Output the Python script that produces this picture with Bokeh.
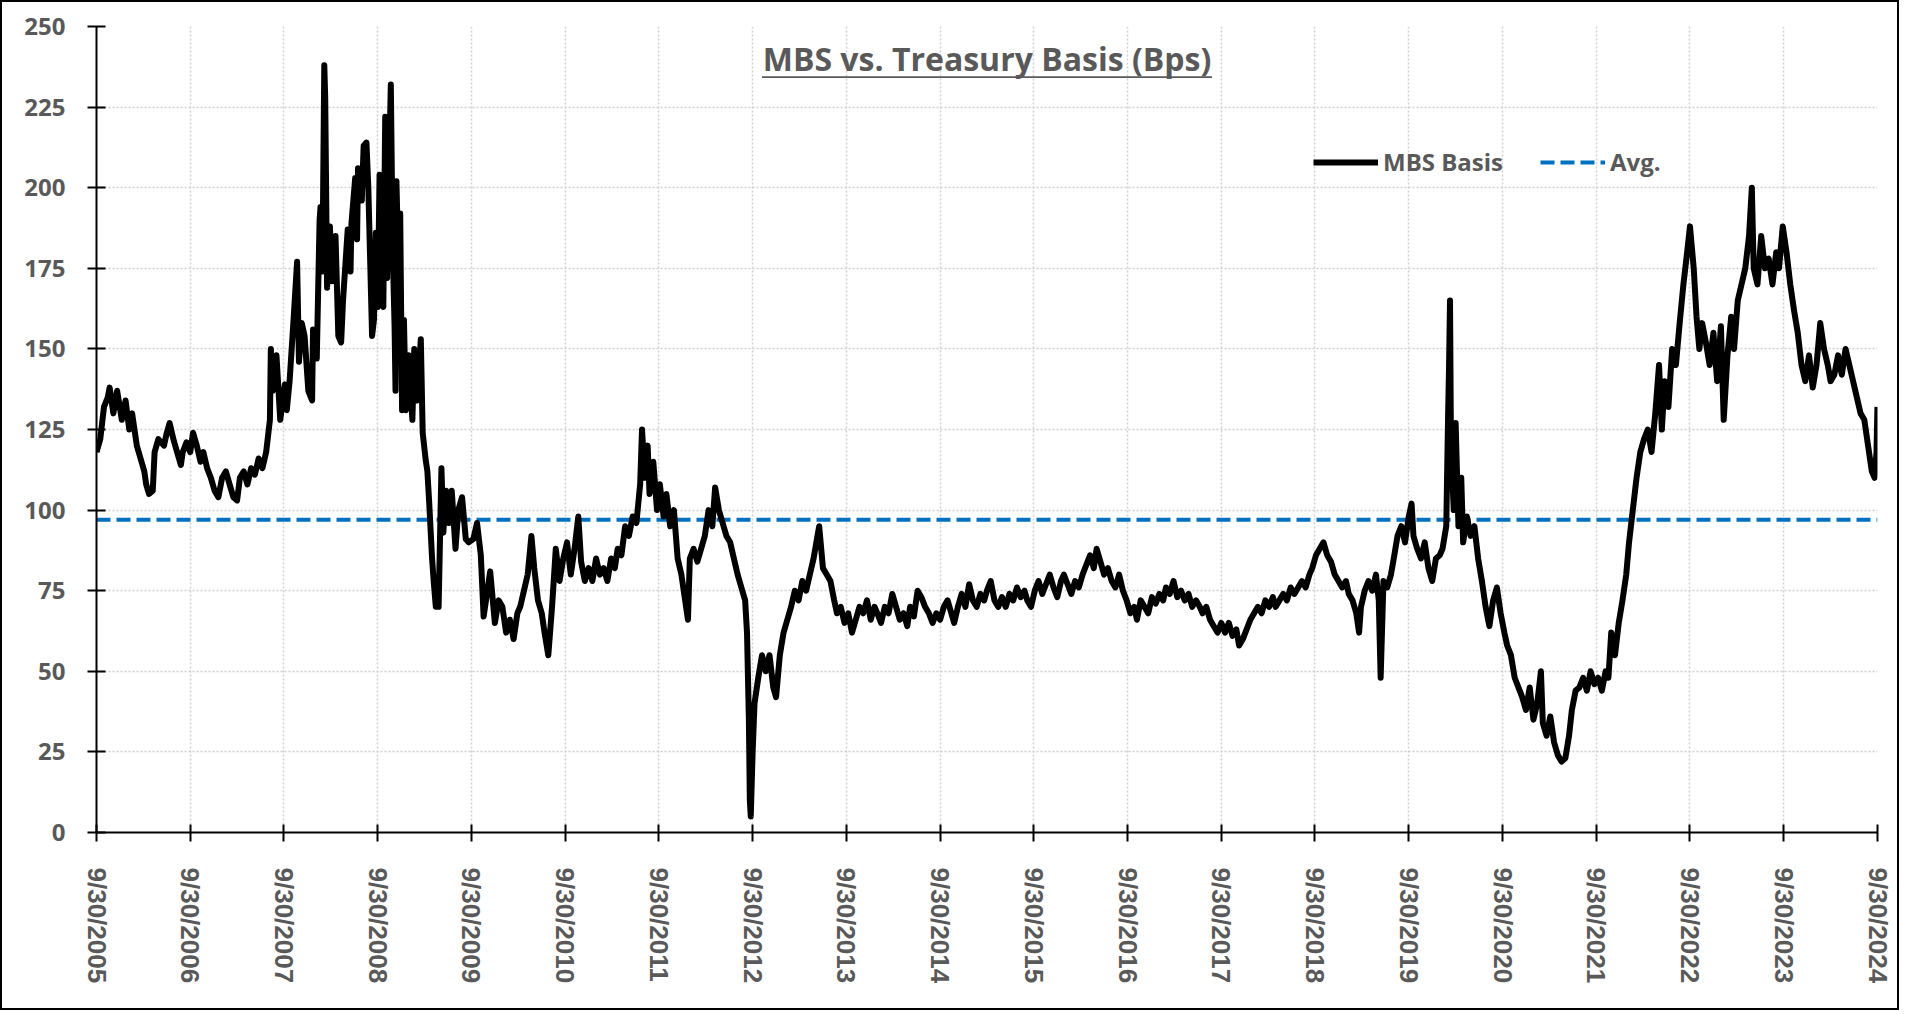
import math
import pandas as pd
from bokeh.plotting import figure
from bokeh.models import (ColumnDataSource, FixedTicker, Legend, LegendItem, Label,
                          BoxAnnotation, Range1d)
from bokeh.embed import file_html
from bokeh.resources import INLINE

# ---- data (decimal year, basis in bps), by period ----
t_2005_07 = [
    2005.75, 2005.79, 2005.83, 2005.87, 2005.89, 2005.93, 2005.97, 2006.02, 2006.06, 2006.10,
    2006.13, 2006.18, 2006.22, 2006.26, 2006.28, 2006.31, 2006.35, 2006.37, 2006.41, 2006.47,
    2006.50, 2006.53, 2006.57, 2006.61, 2006.65, 2006.67, 2006.71, 2006.75, 2006.78, 2006.82,
    2006.86, 2006.89, 2006.93, 2006.97, 2007.01, 2007.05, 2007.09, 2007.13, 2007.17, 2007.21,
    2007.25, 2007.28, 2007.32, 2007.36, 2007.40, 2007.44, 2007.48, 2007.52, 2007.56,
]
v_2005_07 = [
    118, 122, 132, 135, 138, 130, 137, 128, 134, 125,
    130, 120, 116, 112, 108, 105, 106, 118, 122, 120,
    124, 127, 122, 118, 114, 118, 121, 118, 124, 120,
    115, 118, 113, 110, 106, 104, 110, 112, 108, 104,
    103, 110, 112, 108, 113, 111, 116, 113, 118,
]
t_2007_09 = [
    2007.60, 2007.61, 2007.63, 2007.67, 2007.71, 2007.76, 2007.78, 2007.81, 2007.85, 2007.89,
    2007.91, 2007.94, 2007.97, 2008.01, 2008.05, 2008.06, 2008.10, 2008.13, 2008.14, 2008.16,
    2008.18, 2008.19, 2008.21, 2008.24, 2008.26, 2008.30, 2008.33, 2008.36, 2008.38, 2008.43,
    2008.46, 2008.47, 2008.51, 2008.53, 2008.54, 2008.58, 2008.60, 2008.63, 2008.65, 2008.69,
    2008.71, 2008.73, 2008.75, 2008.77, 2008.79, 2008.81, 2008.83, 2008.85, 2008.87, 2008.89,
    2008.91, 2008.93, 2008.94, 2008.95, 2008.97, 2008.99, 2009.01, 2009.03, 2009.05, 2009.08,
    2009.12, 2009.14, 2009.17, 2009.21, 2009.23, 2009.26, 2009.28, 2009.30, 2009.33, 2009.35,
    2009.37, 2009.40, 2009.43, 2009.45, 2009.48, 2009.51, 2009.54, 2009.58, 2009.61, 2009.65,
    2009.69, 2009.72, 2009.77, 2009.81, 2009.85, 2009.88, 2009.92, 2009.95,
]
v_2007_09 = [
    128, 150, 137, 148, 128, 139, 131, 140, 158, 177,
    146, 158, 154, 137, 134, 156, 147, 190, 194, 174,
    238, 228, 169, 188, 171, 185, 154, 152, 165, 187,
    174, 189, 203, 184, 206, 196, 213, 214, 200, 154,
    159, 186, 163, 204, 165, 163, 222, 172, 205, 232,
    181, 157, 137, 202, 177, 192, 131, 159, 131, 148,
    128, 150, 134, 153, 124, 116, 112, 102, 85, 77,
    70, 70, 113, 93, 106, 96, 106, 88, 100, 104,
    91, 90, 91, 96, 86, 67, 75, 81,
]
t_2010_24 = [
    2010.00, 2010.04, 2010.08,
    2010.12, 2010.16, 2010.20, 2010.24, 2010.27, 2010.31, 2010.35, 2010.39, 2010.42, 2010.46,
    2010.50, 2010.53, 2010.57, 2010.61, 2010.65, 2010.69, 2010.73, 2010.77, 2010.81, 2010.85,
    2010.89, 2010.92, 2010.96, 2011.00, 2011.04, 2011.08, 2011.12, 2011.16, 2011.20, 2011.24,
    2011.28, 2011.31, 2011.35, 2011.39, 2011.43, 2011.47, 2011.51, 2011.55, 2011.57, 2011.60,
    2011.63, 2011.65, 2011.69, 2011.73, 2011.76, 2011.80, 2011.83, 2011.87, 2011.91, 2011.95,
    2011.99, 2012.03, 2012.06, 2012.08, 2012.12, 2012.16, 2012.20, 2012.24, 2012.28, 2012.32,
    2012.35, 2012.39, 2012.43, 2012.47, 2012.51, 2012.55, 2012.59, 2012.63, 2012.67, 2012.69,
    2012.71, 2012.72, 2012.73, 2012.75, 2012.77, 2012.81, 2012.85, 2012.89, 2012.93, 2012.97,
    2013.00, 2013.04, 2013.08, 2013.12, 2013.16, 2013.20, 2013.24, 2013.28, 2013.32, 2013.36,
    2013.40, 2013.43, 2013.46, 2013.50, 2013.54, 2013.58, 2013.62, 2013.65, 2013.69, 2013.73,
    2013.77, 2013.81, 2013.85, 2013.89, 2013.93, 2013.97, 2014.01, 2014.05, 2014.08, 2014.12,
    2014.16, 2014.20, 2014.24, 2014.28, 2014.32, 2014.36, 2014.40, 2014.43, 2014.47, 2014.51,
    2014.55, 2014.59, 2014.63, 2014.67, 2014.71, 2014.75, 2014.79, 2014.83, 2014.87, 2014.90,
    2014.94, 2014.98, 2015.02, 2015.06, 2015.10, 2015.14, 2015.18, 2015.22, 2015.25, 2015.29,
    2015.33, 2015.37, 2015.41, 2015.45, 2015.49, 2015.53, 2015.57, 2015.61, 2015.65, 2015.68,
    2015.72, 2015.76, 2015.80, 2015.84, 2015.88, 2015.92, 2015.96, 2016.00, 2016.04, 2016.07,
    2016.11, 2016.15, 2016.19, 2016.23, 2016.27, 2016.31, 2016.35, 2016.39, 2016.42, 2016.46,
    2016.50, 2016.54, 2016.58, 2016.62, 2016.66, 2016.70, 2016.74, 2016.78, 2016.82, 2016.85,
    2016.89, 2016.93, 2016.97, 2017.01, 2017.05, 2017.09, 2017.13, 2017.16, 2017.20, 2017.24,
    2017.28, 2017.32, 2017.36, 2017.40, 2017.44, 2017.48, 2017.52, 2017.55, 2017.59, 2017.63,
    2017.67, 2017.71, 2017.75, 2017.79, 2017.83, 2017.87, 2017.91, 2017.94, 2017.98, 2018.02,
    2018.06, 2018.10, 2018.14, 2018.18, 2018.22, 2018.26, 2018.30, 2018.33, 2018.37, 2018.41,
    2018.45, 2018.49, 2018.53, 2018.57, 2018.61, 2018.65, 2018.69, 2018.72, 2018.76, 2018.80,
    2018.84, 2018.88, 2018.92, 2018.96, 2019.00, 2019.04, 2019.08, 2019.11, 2019.15, 2019.19,
    2019.22, 2019.24, 2019.28, 2019.32, 2019.36, 2019.40, 2019.43, 2019.45, 2019.48, 2019.52,
    2019.56, 2019.59, 2019.63, 2019.67, 2019.71, 2019.75, 2019.78, 2019.80, 2019.84, 2019.88,
    2019.92, 2019.96, 2020.00, 2020.04, 2020.08, 2020.11, 2020.15, 2020.17, 2020.18, 2020.19,
    2020.20, 2020.23, 2020.25, 2020.28, 2020.31, 2020.33, 2020.37, 2020.41, 2020.45, 2020.49,
    2020.53, 2020.57, 2020.61, 2020.65, 2020.69, 2020.73, 2020.77, 2020.80, 2020.84, 2020.88,
    2020.92, 2020.96, 2021.00, 2021.04, 2021.08, 2021.12, 2021.16, 2021.18, 2021.22, 2021.26,
    2021.30, 2021.34, 2021.38, 2021.42, 2021.46, 2021.49, 2021.53, 2021.57, 2021.61, 2021.65,
    2021.69, 2021.73, 2021.77, 2021.81, 2021.85, 2021.88, 2021.91, 2021.95, 2021.99, 2022.03,
    2022.07, 2022.10, 2022.14, 2022.18, 2022.22, 2022.26, 2022.30, 2022.34, 2022.38, 2022.42,
    2022.45, 2022.48, 2022.52, 2022.56, 2022.60, 2022.64, 2022.68, 2022.72, 2022.75, 2022.79,
    2022.82, 2022.85, 2022.88, 2022.92, 2022.96, 2023.00, 2023.04, 2023.08, 2023.11, 2023.15,
    2023.19, 2023.22, 2023.26, 2023.30, 2023.34, 2023.38, 2023.41, 2023.43, 2023.47, 2023.51,
    2023.55, 2023.59, 2023.63, 2023.67, 2023.70, 2023.74, 2023.78, 2023.82, 2023.86, 2023.90,
    2023.94, 2023.98, 2024.02, 2024.06, 2024.10, 2024.14, 2024.18, 2024.22, 2024.25, 2024.29,
    2024.33, 2024.37, 2024.41, 2024.45, 2024.49, 2024.53, 2024.57, 2024.61, 2024.65, 2024.69,
    2024.72, 2024.74, 2024.75,
]
v_2010_24 = [
    65, 72, 70,
    62, 66, 60, 68, 70, 75, 80, 92, 82, 72,
    68, 62, 55, 70, 88, 78, 85, 90, 80, 88,
    98, 84, 78, 82, 78, 85, 80, 82, 78, 85,
    82, 88, 86, 95, 92, 98, 96, 108, 125, 110,
    120, 105, 115, 100, 108, 98, 105, 95, 100, 85,
    80, 72, 66, 85, 88, 84, 88, 92, 100, 95,
    107, 100, 96, 92, 90, 85, 80, 76, 72, 62,
    35, 10, 5, 25, 40, 48, 55, 50, 55, 45,
    42, 55, 62, 66, 70, 75, 72, 78, 75, 80,
    85, 90, 95, 82, 80, 78, 72, 68, 70, 65,
    68, 62, 66, 70, 68, 72, 66, 70, 68, 65,
    70, 68, 74, 70, 66, 68, 64, 70, 67, 75,
    73, 70, 68, 65, 68, 66, 70, 72, 68, 65,
    70, 74, 70, 77, 72, 70, 74, 72, 75, 78,
    72, 70, 73, 70, 74, 72, 76, 73, 75, 72,
    70, 75, 78, 74, 77, 80, 76, 73, 78, 80,
    77, 74, 78, 76, 80, 83, 86, 82, 88, 84,
    80, 82, 78, 76, 80, 75, 72, 68, 70, 66,
    72, 70, 68, 73, 71, 74, 72, 76, 74, 78,
    73, 75, 72, 74, 70, 72, 70, 68, 70, 66,
    64, 62, 65, 62, 65, 61, 63, 58, 60, 63,
    66, 68, 70, 68, 72, 70, 73, 70, 72, 74,
    72, 76, 74, 76, 78, 76, 80, 82, 86, 88,
    90, 86, 84, 80, 78, 76, 78, 74, 72, 68,
    62, 70, 75, 78, 75, 80, 72, 48, 78, 76,
    80, 85, 92, 95, 90, 98, 102, 92, 88, 85,
    90, 82, 78, 85, 86, 88, 95, 130, 145, 165,
    120, 100, 127, 95, 110, 90, 98, 92, 95, 85,
    78, 70, 64, 72, 76, 68, 62, 58, 55, 48,
    45, 42, 38, 45, 35, 40, 50, 34, 30, 36,
    28, 24, 22, 23, 30, 38, 44, 45, 48, 44,
    50, 46, 48, 44, 50, 48, 62, 55, 65, 72,
    80, 90, 100, 110, 118, 122, 125, 118, 130, 145,
    125, 140, 132, 150, 145, 158, 170, 180, 188, 175,
    160, 150, 158, 152, 145, 155, 140, 157, 128, 148,
    160, 150, 165, 170, 175, 185, 200, 175, 170, 185,
    175, 178, 170, 180, 175, 188, 180, 170, 162, 155,
    145, 140, 148, 138, 145, 158, 150, 145, 140, 142,
    148, 142, 150, 145, 140, 135, 130, 128, 120, 112,
    110, 118, 132,
]
avg_basis = 97.0
y_ticks = [0, 25, 50, 75, 100, 125, 150, 175, 200, 225, 250]
tick_years = list(range(2005, 2025))
tick_labels = [f"9/30/{y}" for y in tick_years]

t_years = t_2005_07 + t_2007_09 + t_2010_24
mbs_basis = v_2005_07 + v_2007_09 + v_2010_24
assert len(t_years) == len(mbs_basis)

# ---- build ----
base = pd.Timestamp("2005-09-30")
dates = [base + pd.Timedelta(days=(t - 2005.75) * 365.25) for t in t_years]
src = ColumnDataSource(dict(date=dates, basis=mbs_basis))


def ms(ts):
    return ts.value / 1e6


tick_ms = [ms(pd.Timestamp(f"{y}-09-30")) for y in tick_years]
x0, x1 = tick_ms[0], tick_ms[-1]

FW, FH = 1781, 806
p = figure(x_axis_type="datetime", frame_width=FW, frame_height=FH,
           x_range=Range1d(x0, x1), y_range=Range1d(0, 250),
           min_border_left=94, min_border_top=24, min_border_right=20,
           min_border_bottom=176, output_backend="svg", toolbar_location=None,
           outline_line_color=None, background_fill_color="white",
           border_fill_color="white")
p.styles = {"border": "2px solid black"}

GRAY = "#595959"
FONT = "Open Sans"
for g in (p.xgrid, p.ygrid):
    g.grid_line_color = "#D0D0D0"
    g.grid_line_dash = "2 2"
    g.grid_line_width = 1.5

p.yaxis.ticker = FixedTicker(ticks=y_ticks)
p.yaxis.minor_tick_line_color = None
p.yaxis.major_tick_in = 9
p.yaxis.major_tick_out = 9
p.yaxis.major_tick_line_width = 2
p.yaxis.axis_line_width = 2
p.yaxis.axis_line_color = "black"
p.yaxis.major_tick_line_color = "black"
p.yaxis.major_label_text_font = FONT
p.yaxis.major_label_text_font_style = "bold"
p.yaxis.major_label_text_font_size = "24px"
p.yaxis.major_label_text_color = GRAY
p.yaxis.major_label_standoff = 22

p.xaxis.ticker = FixedTicker(ticks=tick_ms)
p.xaxis.major_label_overrides = {t: lab for t, lab in zip(tick_ms, tick_labels)}
p.xaxis.minor_tick_line_color = None
p.xaxis.major_tick_in = 8
p.xaxis.major_tick_out = 9
p.xaxis.major_tick_line_width = 2
p.xaxis.axis_line_width = 2
p.xaxis.axis_line_color = "black"
p.xaxis.major_tick_line_color = "black"
p.xaxis.major_label_orientation = -math.pi / 2
p.xaxis.major_label_text_font = "Liberation Sans"
p.xaxis.major_label_text_font_style = "bold"
p.xaxis.major_label_text_font_size = "26px"
p.xaxis.major_label_text_color = GRAY
p.xaxis.major_label_standoff = 26

avg_src = ColumnDataSource(dict(date=[dates[0], dates[-1]], avg=[avg_basis, avg_basis]))
r_avg = p.line("date", "avg", source=avg_src, line_color="#0070C0", line_width=4,
               line_dash="14 6")
r_mbs = p.line("date", "basis", source=src, line_color="black", line_width=6,
               line_join="round")

legend = Legend(items=[LegendItem(label="MBS Basis", renderers=[r_mbs]),
                       LegendItem(label="Avg.", renderers=[r_avg])],
                orientation="horizontal", location=(1217, 654),
                glyph_width=65, glyph_height=24, label_standoff=5, spacing=37,
                padding=0, margin=0, border_line_color=None,
                background_fill_alpha=0,
                label_text_font=FONT, label_text_font_style="bold",
                label_text_font_size="24px", label_text_color=GRAY)
p.add_layout(legend)

title_text = "MBS vs. Treasury Basis (Bps)"
xc = (x0 + x1) / 2
p.add_layout(Label(x=xc, y=240.2, text=title_text, text_align="center",
                   text_baseline="alphabetic", text_font=FONT,
                   text_font_style="bold", text_font_size="32px", text_color=GRAY))
half = 225 * (x1 - x0) / FW
p.add_layout(BoxAnnotation(left=xc - half, right=xc + half, top=234.6, bottom=234.0,
                           fill_color=GRAY, fill_alpha=1, line_color=None))

open("out.html", "w").write(file_html(p, INLINE))
